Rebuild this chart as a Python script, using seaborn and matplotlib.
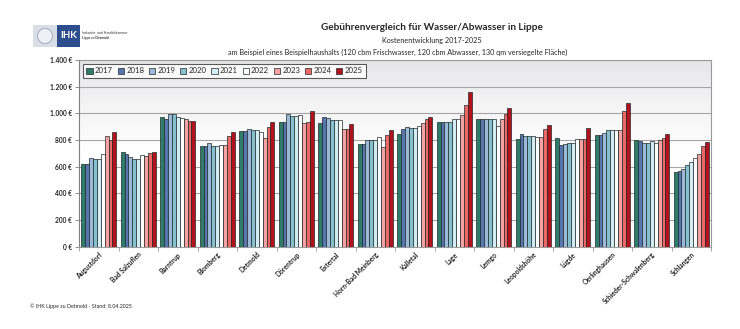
import numpy as np
import pandas as pd
import matplotlib
matplotlib.use("Agg")
import matplotlib.pyplot as plt
import seaborn as sns
from matplotlib.patches import Rectangle, Circle
from matplotlib.ticker import FuncFormatter, MultipleLocator, FixedLocator

orte = ["Augustdorf", "Bad Salzuflen", "Barntrup", "Blomberg", "Detmold", "Dörentrup",
        "Extertal", "Horn-Bad Meinberg", "Kalletal", "Lage", "Lemgo", "Leopoldshöhe",
        "Lügde", "Oerlinghausen", "Schieder-Schwalenberg", "Schlangen"]
jahre = ["2017", "2018", "2019", "2020", "2021", "2022", "2023", "2024", "2025"]

v2017 = [620, 707, 972, 757, 865, 932, 925, 770, 845, 932, 955, 805, 812, 835, 800, 557]
v2018 = [620, 692, 955, 757, 865, 932, 972, 770, 880, 932, 955, 842, 762, 835, 792, 565]
v2019 = [662, 675, 997, 775, 882, 995, 962, 797, 895, 932, 955, 827, 770, 852, 777, 582]
v2020 = [655, 655, 995, 757, 872, 977, 947, 797, 887, 932, 955, 827, 775, 872, 777, 610]
v2021 = [655, 655, 970, 757, 872, 977, 947, 797, 892, 955, 955, 827, 775, 872, 790, 635]
v2022 = [695, 687, 962, 765, 862, 987, 947, 820, 905, 955, 905, 820, 805, 872, 777, 665]
v2023 = [830, 680, 955, 760, 812, 927, 882, 745, 930, 987, 955, 820, 805, 872, 800, 692]
v2024 = [800, 700, 942, 827, 895, 935, 882, 837, 955, 1062, 995, 885, 805, 1015, 815, 752]
v2025 = [860, 707, 942, 857, 935, 1020, 920, 875, 970, 1157, 1037, 910, 887, 1077, 847, 785]

farben = ["#2f7c6b", "#5876ae", "#9db9d9", "#86c0cf", "#d2ecf3", "#ffffff",
          "#f6a2a2", "#ee6767", "#b3111b"]

serien = [v2017, v2018, v2019, v2020, v2021, v2022, v2023, v2024, v2025]
df = pd.DataFrame({
    "Ort": np.tile(orte, len(jahre)),
    "Jahr": np.repeat(jahre, len(orte)),
    "Wert": np.concatenate(serien),
})

sns.set_theme(style="white")
plt.rcParams["font.family"] = ["Lato", "DejaVu Sans"]

fig = plt.figure(figsize=(7.4, 3.29), dpi=100)
ax = fig.add_axes([79 / 740, 1 - 246.7 / 329, (711 - 79) / 740, (246.7 - 60) / 329])

# gradient background (grey at top fading to white)
grad = np.linspace(0, 1, 256).reshape(-1, 1)
top_c = np.array([0.90, 0.90, 0.91])
vals = np.clip(grad / 0.5, 0, 1) ** 0.8
img = top_c[None, None, :] * (1 - vals[..., None]) + np.ones(3)[None, None, :] * vals[..., None]
ax.imshow(img, extent=[0, 1, 0, 1], transform=ax.transAxes, aspect="auto", zorder=0)

sns.barplot(data=df, x="Ort", y="Wert", hue="Jahr", order=orte, hue_order=jahre,
            palette=farben, width=0.89, gap=0, edgecolor="#1e2a2a", linewidth=0.5,
            saturation=1, legend=False, ax=ax, zorder=3)

ax.set_ylim(0, 1400)
ax.set_xlim(-0.5, len(orte) - 0.5)
ax.yaxis.set_major_locator(MultipleLocator(200))
ax.yaxis.set_major_formatter(FuncFormatter(lambda v, p: f"{int(v):,} €".replace(",", ".")))
ax.grid(axis="y", color="#a6a6a6", linewidth=0.8, zorder=1)
ax.set_axisbelow(True)
ax.set_xlabel("")
ax.set_ylabel("")

for s in ["top", "right"]:
    ax.spines[s].set_color("#9a9a9a")
    ax.spines[s].set_linewidth(0.8)
ax.spines["left"].set_color("#7f7f7f")
ax.spines["bottom"].set_color("#9a9a9a")
ax.spines["left"].set_linewidth(0.8)
ax.spines["bottom"].set_linewidth(0.8)

ax.tick_params(axis="y", length=3, width=0.6, color="#7f7f7f", labelsize=4.8, pad=2, left=True)
for lab in ax.get_yticklabels():
    lab.set_fontweight("bold")
ax.set_xticks(range(len(orte)))
ax.set_xticklabels(orte, rotation=45, ha="right", rotation_mode="anchor",
                   fontsize=4.8, fontweight="bold")
ax.tick_params(axis="x", length=0, pad=3)
ax.xaxis.set_minor_locator(FixedLocator(np.arange(-0.5, len(orte), 1.0)))
ax.tick_params(axis="x", which="minor", length=3, width=0.6, color="#9a9a9a", bottom=True)

handles = [Rectangle((0, 0), 1, 1, facecolor=c, edgecolor="#1e2a2a", linewidth=0.5) for c in farben]
leg = ax.legend(handles, jahre, loc="upper left", ncol=9, fontsize=5.6, frameon=True,
                bbox_to_anchor=(0.0, 1.0), handlelength=0.8, handleheight=0.8,
                handletextpad=0.3, columnspacing=0.6, borderpad=0.45, fancybox=False)
leg.get_frame().set_edgecolor("#333333")
leg.get_frame().set_linewidth(0.8)
leg.get_frame().set_facecolor("white")
leg.set_zorder(5)

# titles
fig.text(432 / 740, 1 - 28 / 329, "Gebührenvergleich für Wasser/Abwasser in Lippe",
         ha="center", va="center", fontsize=7.2, fontweight="bold")
fig.text(432 / 740, 1 - 41 / 329, "Kostenentwicklung 2017-2025", ha="center", va="center", fontsize=5.2)
fig.text(398 / 740, 1 - 52 / 329,
         "am Beispiel eines Beispielhaushalts (120 cbm Frischwasser, 120 cbm Abwasser, 130 qm versiegelte Fläche)",
         ha="center", va="center", fontsize=5.2)

# logo
lg = fig.add_axes([33 / 740, 1 - 47 / 329, 100 / 740, 22 / 329])
lg.set_xlim(0, 100)
lg.set_ylim(0, 22)
lg.axis("off")
lg.add_patch(Rectangle((0, 0), 24, 22, facecolor="#d9dde6", edgecolor="none"))
lg.add_patch(Circle((12, 11), 7.5, facecolor="#eef0f5", edgecolor="#9aa3b8", linewidth=0.6))
lg.add_patch(Rectangle((24, 0), 23, 22, facecolor="#2e4d8c", edgecolor="none"))
lg.text(35.5, 11, "IHK", color="white", fontsize=7, fontweight="bold", ha="center", va="center")
lg.text(49, 14, "Industrie- und Handelskammer", fontsize=2.4, va="center", color="#333333")
lg.text(49, 9.5, "Lippe zu Detmold", fontsize=2.4, va="center", fontweight="bold", color="#333333")

fig.text(30 / 740, 1 - 306 / 329, "© IHK Lippe zu Detmold - Stand: 8.04.2025", fontsize=3.8,
         va="center", ha="left")

fig.savefig("out.png", dpi=100, facecolor="white")
